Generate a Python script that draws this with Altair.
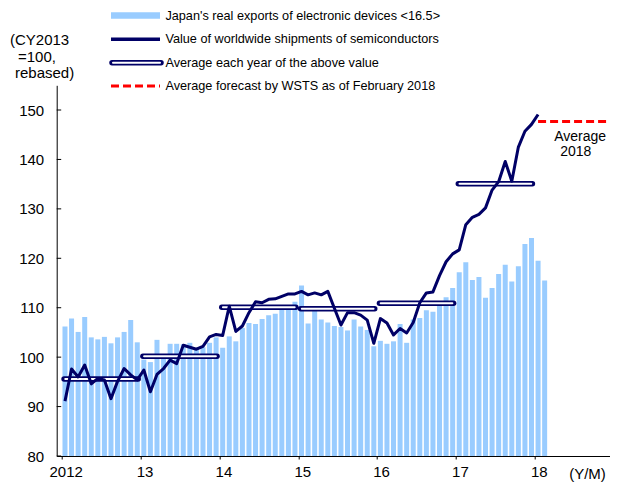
import altair as alt
import pandas as pd

# ---- data (monthly, Jan 2012 onward) ----
exports = [
    106.2, 107.8, 105.1, 108.1, 104.0, 103.6, 104.1, 102.8, 104.0, 105.1, 107.5, 103.0,
    99.5, 99.0, 103.5, 100.0, 102.7, 102.7, 102.6, 102.9, 101.8, 102.0, 102.9, 104.0,
    101.9, 104.2, 103.2, 105.9, 106.9, 106.7, 107.7, 108.5, 108.8, 109.8, 110.1, 111.2,
    114.5, 106.8, 110.0, 107.6, 107.0, 106.3, 106.1, 105.4, 107.6, 106.2, 105.5, 102.2,
    103.3, 102.7, 103.2, 106.7, 102.9, 107.6, 107.9, 109.5, 109.2, 111.2, 112.1, 114.0,
    117.2, 119.2, 115.6, 116.2, 112.0, 114.0, 116.8, 118.7, 115.3, 118.4, 122.9, 124.1,
    119.5, 115.5,
]
shipments = [
    91.1, 97.6, 96.0, 98.4, 94.6, 95.7, 95.4, 91.6, 95.1, 97.7, 96.4, 95.4,
    97.4, 93.0, 96.5, 97.7, 99.4, 98.7, 102.4, 102.0, 101.6, 102.2, 104.1, 104.6,
    104.4, 110.3, 105.2, 106.3, 109.0, 111.2, 111.0, 111.7, 111.8, 112.3, 112.8, 112.8,
    113.3, 112.6, 113.0, 112.6, 113.3, 109.9, 106.5, 109.0, 109.0, 108.5, 107.5, 102.8,
    107.8, 106.9, 104.5, 105.8, 104.9, 107.0, 111.0, 113.0, 113.2, 116.5, 119.3, 120.9,
    121.7, 126.8, 128.3, 128.9, 130.2, 133.8, 135.5, 139.6, 135.6, 142.5, 145.7, 147.1,
    149.1,
]
avg_years = [2012, 2013, 2014, 2015, 2016, 2017]
annual_avg = [95.6, 100.2, 110.1, 109.8, 110.9, 135.1]
forecast_year = 2018
forecast_2018 = 147.7
y_ticks = [80, 90, 100, 110, 120, 130, 140, 150]
x_ticks = [2012, 2013, 2014, 2015, 2016, 2017, 2018]
legend_labels = [
    "Japan's real exports of electronic devices <16.5>",
    "Value of worldwide shipments of semiconductors",
    "Average each year of the above value",
    "Average forecast by WSTS as of February 2018",
]
y_title = ["(CY2013", "=100,", "rebased)"]

START = 2012
bars_df = pd.DataFrame({"t": [START + (i + 0.5) / 12 for i in range(len(exports))], "v": exports})
line_df = pd.DataFrame({"t": [START + (i + 0.5) / 12 for i in range(len(shipments))], "v": shipments})
avg_df = pd.DataFrame({"s": [y + 0.03 for y in avg_years], "e": [y + 0.97 for y in avg_years], "v": annual_avg})
avg_in_df = pd.DataFrame({"s": [y + 0.045 for y in avg_years], "e": [y + 0.955 for y in avg_years], "v": annual_avg})
fc_df = pd.DataFrame({"s": [forecast_year + 0.5 / 12], "e": [forecast_year + 1], "v": [forecast_2018]})
tick_df = pd.DataFrame({"v": y_ticks})
one = pd.DataFrame({"a": [0]})

NAVY = "#000066"
BLUE = "#99CCFF"
FONT = "Liberation Sans"

PLOT_W = 553.3
YEAR_PX = 80.3
xs = alt.Scale(domain=[2012, 2012 + PLOT_W / YEAR_PX], nice=False, zero=False)
ys = alt.Scale(domain=[80, 155], nice=False, zero=False)

bars = alt.Chart(bars_df).mark_bar(color=BLUE, size=5).encode(
    x=alt.X("t:Q", scale=xs, axis=alt.Axis(
        values=x_ticks, title=None, tickSize=3, labelOffset=4, labelPadding=5,
        labelExpr="datum.value == 2012 ? '2012' : slice(toString(datum.value), 2)",
        labelFontSize=15)),
    y=alt.Y("v:Q", scale=ys, axis=alt.Axis(
        values=y_ticks, title=None, ticks=False, labelPadding=13, labelFontSize=15)),
    y2=alt.datum(80),
)

avg_outer = alt.Chart(avg_df).mark_rule(color=NAVY, strokeWidth=5.5, strokeCap="round").encode(
    x=alt.X("s:Q", scale=xs), x2="e:Q", y=alt.Y("v:Q", scale=ys))
avg_inner = alt.Chart(avg_in_df).mark_rule(color="white", strokeWidth=2, strokeCap="round").encode(
    x=alt.X("s:Q", scale=xs), x2="e:Q", y=alt.Y("v:Q", scale=ys))

line = alt.Chart(line_df).mark_line(color=NAVY, strokeWidth=3, strokeJoin="round").encode(
    x=alt.X("t:Q", scale=xs), y=alt.Y("v:Q", scale=ys))

fc = alt.Chart(fc_df).mark_rule(color="#FF0000", strokeWidth=3, strokeDash=[8, 4]).encode(
    x=alt.X("s:Q", scale=xs), x2="e:Q", y=alt.Y("v:Q", scale=ys))

yticks = alt.Chart(tick_df).mark_rule(color="black", strokeWidth=1).encode(
    x=alt.value(0), x2=alt.value(4.5), y=alt.Y("v:Q", scale=ys))

def txt(s, x, y, size=12.7, align="left"):
    return alt.Chart(one).mark_text(text=s, align=align, baseline="middle", fontSize=size,
                                    font=FONT, color="black").encode(x=alt.value(x), y=alt.value(y))

LX0, LX1 = 54.3, 103.3
leg_rect = alt.Chart(one).mark_rect(color=BLUE).encode(
    x=alt.value(LX0), x2=alt.value(LX1), y=alt.value(-73), y2=alt.value(-66.5))
leg_line = alt.Chart(one).mark_rule(color=NAVY, strokeWidth=3.5).encode(
    x=alt.value(LX0), x2=alt.value(LX1), y=alt.value(-46))
leg_avg_o = alt.Chart(one).mark_rule(color=NAVY, strokeWidth=5.5, strokeCap="round").encode(
    x=alt.value(LX0 + 1), x2=alt.value(LX1 + 1), y=alt.value(-22.6))
leg_avg_i = alt.Chart(one).mark_rule(color="white", strokeWidth=2, strokeCap="round").encode(
    x=alt.value(LX0 + 2), x2=alt.value(LX1), y=alt.value(-22.6))
leg_fc = alt.Chart(one).mark_rule(color="#FF0000", strokeWidth=3, strokeDash=[8, 4]).encode(
    x=alt.value(LX0), x2=alt.value(LX1), y=alt.value(0.7))

texts = [
    txt(legend_labels[0], 108.7, -69.6),
    txt(legend_labels[1], 108.7, -46),
    txt(legend_labels[2], 108.7, -22.6),
    txt(legend_labels[3], 108.7, 0.7),
    txt(y_title[0], -46.7, -45.3, 15),
    txt(y_title[1], -38.7, -28.3, 15),
    txt(y_title[2], -41.7, -12.3, 15),
    txt("Average", 497.5, 51.4, 14),
    txt("2018", 503.5, 66.7, 14),
    txt("(Y/M)", 512.5, 388.5, 15),
]

chart = alt.layer(
    bars, avg_outer, avg_inner, line, fc, yticks,
    leg_rect, leg_line, leg_avg_o, leg_avg_i, leg_fc, *texts
).properties(
    width=PLOT_W, height=370.7,
    autosize=alt.AutoSizeParams(type="none"),
    padding={"left": 48.7, "top": 77.3, "right": 0, "bottom": 26},
    background="white",
).configure_view(stroke=None).configure_axis(
    grid=False, domainColor="black", tickColor="black", labelColor="black",
    labelFont=FONT, domainWidth=1,
)

chart.save("out.html", embed_options={"renderer": "svg", "actions": False})
